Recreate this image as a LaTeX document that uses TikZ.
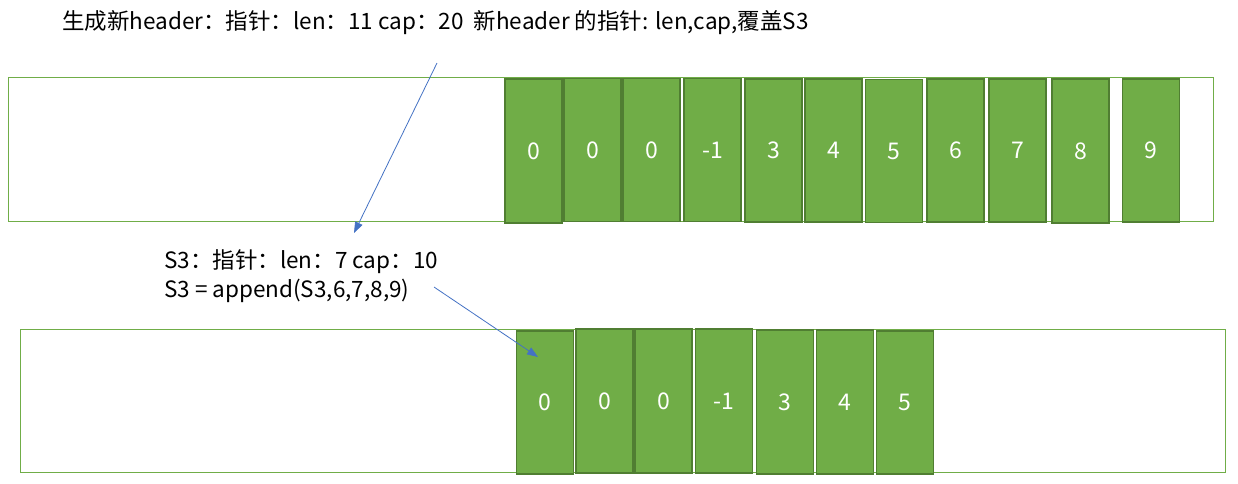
\documentclass[tikz,border=0pt]{standalone}
\usepackage{fontspec}
\setmainfont{Noto Sans CJK SC}
\usetikzlibrary{arrows.meta}
\definecolor{cellgreen}{HTML}{70AD47}
\definecolor{cellborder}{HTML}{507E32}
\definecolor{arrowblue}{HTML}{4472C4}
\tikzset{
  outerbox/.style={draw=cellgreen, line width=1pt, fill=white, inner sep=0pt},
  cell/.style={draw=cellborder, fill=cellgreen, line width=1.2pt, inner sep=0pt,
    minimum width=57pt, text=white, font=\fontsize{23}{26}\selectfont},
  topcell/.style={cell, minimum height=143pt},
  label/.style={anchor=base west, inner sep=0pt, font=\fontsize{22.5}{26}\selectfont},
  ptr/.style={draw=arrowblue, line width=0.8pt, -{Triangle[length=11pt,width=8pt]}}
}
\begin{document}
\begin{tikzpicture}[x=1pt,y=-1pt]
\useasboundingbox (0,0) rectangle (1238,483);
% outer boxes
\node[outerbox, minimum width=1205pt, minimum height=144pt] (topbox) at (610.5,149) {};
\node[outerbox, minimum width=1205pt, minimum height=143pt] (botbox) at (622.5,400.5) {};
% top cells
\node[topcell, minimum height=144pt] (t1) at (533.5,151) {0};
\node[topcell] (t2) at (592.5,150) {0};
\node[topcell] (t3) at (651.5,150) {0};
\node[topcell] (t4) at (712.5,150) {-1};
\node[topcell] (t5) at (773.5,150.5) {3};
\node[topcell] (t6) at (833.5,150.5) {4};
\node[topcell] (t7) at (894,151) {5};
\node[topcell] (t8) at (955.5,150.5) {6};
\node[topcell] (t9) at (1017.5,150.5) {7};
\node[topcell, minimum height=144pt] (t10) at (1080.5,151) {8};
\node[topcell] (t11) at (1151,150.5) {9};
% bottom cells
\node[cell, minimum height=143pt] (b1) at (545,402.5) {0};
\node[cell, minimum height=144pt] (b2) at (604.5,401) {0};
\node[cell, minimum height=144pt] (b3) at (663.5,401) {0};
\node[cell, minimum height=144pt] (b4) at (724,401) {-1};
\node[cell, minimum height=144pt] (b5) at (785,402) {3};
\node[cell, minimum height=144pt] (b6) at (845,402) {4};
\node[cell, minimum height=143pt] (b7) at (905,402.5) {5};
% texts
\node[label] (toptext) at (62,29) {生成新header：指针：len：11 cap：20\ \ 新header 的指针: len,cap,覆盖S3};
\node[label] (s3a) at (164,268) {S3：指针：len：7 cap：10};
\node[label] (s3b) at (164,297) {S3 = append(S3,6,7,8,9)};
% arrows
\coordinate (a1s) at (437,63);
\coordinate (a1e) at (354,233);
\coordinate (a2s) at (434,287);
\coordinate (a2e) at (538,357);
\draw[ptr] (a1s) -- (a1e);
\draw[ptr] (a2s) -- (a2e);
\end{tikzpicture}
\end{document}
